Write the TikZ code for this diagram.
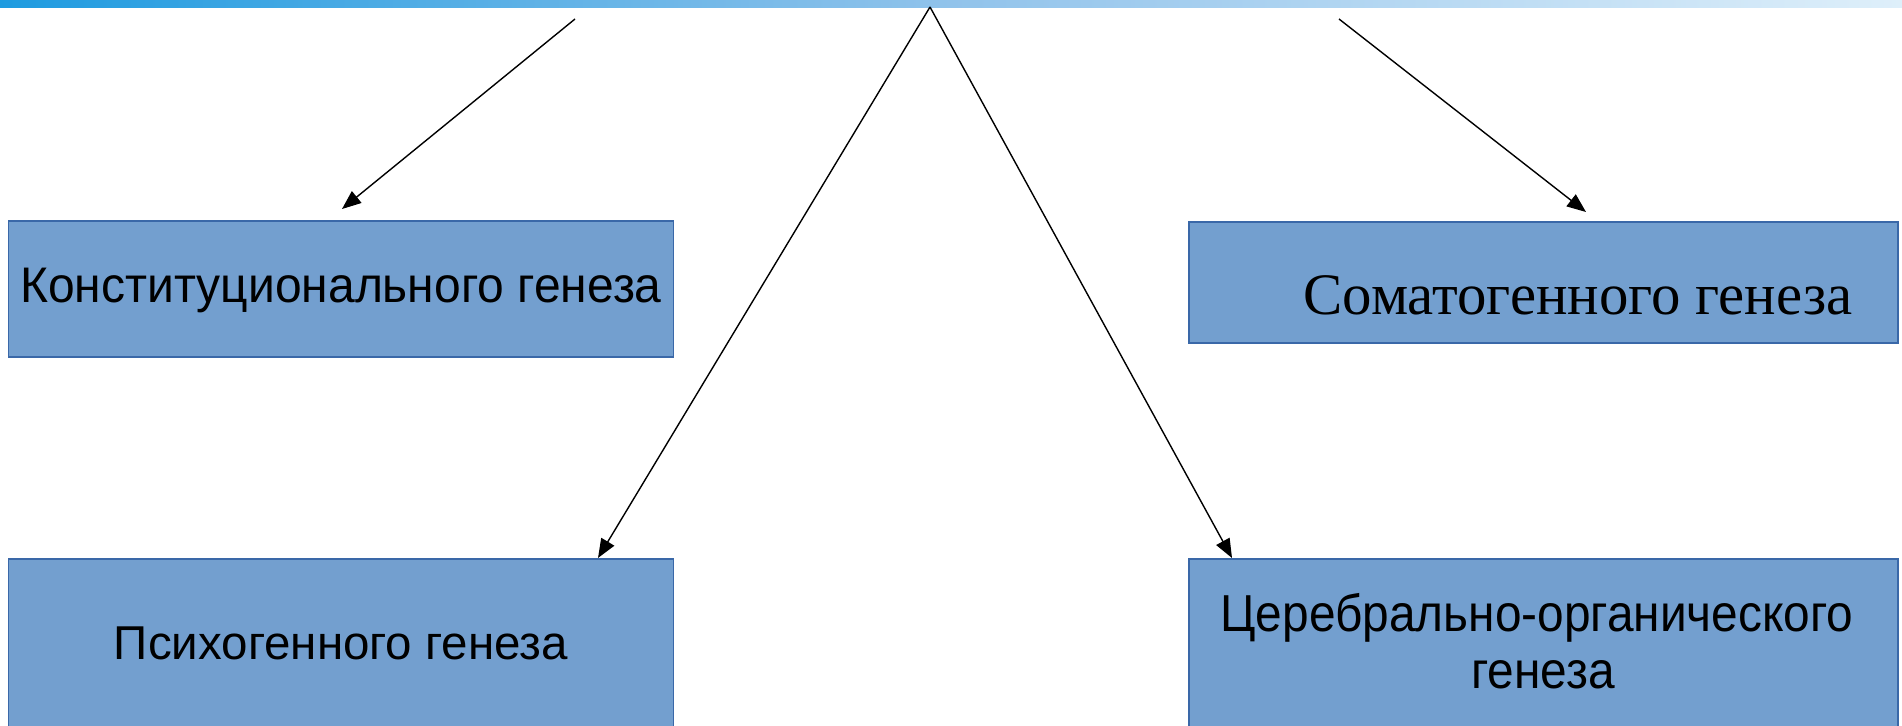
\documentclass[tikz,border=0pt]{standalone}
\usepackage{fontspec}
\setmainfont{Liberation Sans}
\newfontfamily\serifru{Liberation Serif}
\usetikzlibrary{arrows.meta}
\definecolor{boxfill}{RGB}{115,159,207}
\definecolor{boxline}{RGB}{58,104,168}
\definecolor{barA}{RGB}{30,155,224}
\definecolor{barB}{RGB}{145,195,235}
\definecolor{barC}{RGB}{222,239,250}
\tikzset{
  box/.style={draw=boxline, line width=1.3pt, fill=boxfill, inner sep=0pt},
  lbl/.style={inner sep=0pt, text=black, align=center},
  conn/.style={draw=black, line width=1.4pt, -{Triangle[length=19pt,width=15pt]}},
}
\begin{document}
\begin{tikzpicture}[x=1pt,y=-1pt]
\useasboundingbox (0,0) rectangle (1902,725);
\clip (0,0) rectangle (1902,725);
\shade[left color=barA, right color=barC, middle color=barB] (0,0) rectangle (1902,8);
% boxes
\node[box, minimum width=665pt, minimum height=136pt] (K) at (341,289) {};
\node[box, minimum width=709pt, minimum height=121pt] (S) at (1543.5,282.5) {};
\node[box, minimum width=665pt, minimum height=176pt] (P) at (341,647) {};
\node[box, minimum width=709pt, minimum height=176pt] (C) at (1543.5,647) {};
% labels
\node[lbl, font=\fontsize{50}{54}\selectfont] (Kt) at (341,290) {\scalebox{0.96}[1]{Конституционального генеза}};
\node[lbl, font=\fontsize{58.8}{62}\serifru] (St) at (1578,295) {Соматогенного генеза};
\node[lbl, font=\fontsize{47.5}{52}\selectfont] (Pt) at (341,643) {Психогенного генеза};
\node[lbl, font=\fontsize{52}{57}\selectfont] (Ct) at (1537,641) {\scalebox{0.92}[1]{Церебрально-органического}\\\hspace*{12pt}\scalebox{0.92}[1]{генеза}};
% connector ends
\coordinate (a1) at (575,19);
\coordinate (a4) at (1339,19);
\coordinate (top) at (930,7);
\coordinate (t1) at (342,209);
\coordinate (t2) at (598,558);
\coordinate (t3) at (1232,558);
\coordinate (t4) at (1586,212);
\draw[conn] (a1) -- (t1);
\draw[conn] (top) -- (t2);
\draw[conn] (top) -- (t3);
\draw[conn] (a4) -- (t4);
\end{tikzpicture}
\end{document}
